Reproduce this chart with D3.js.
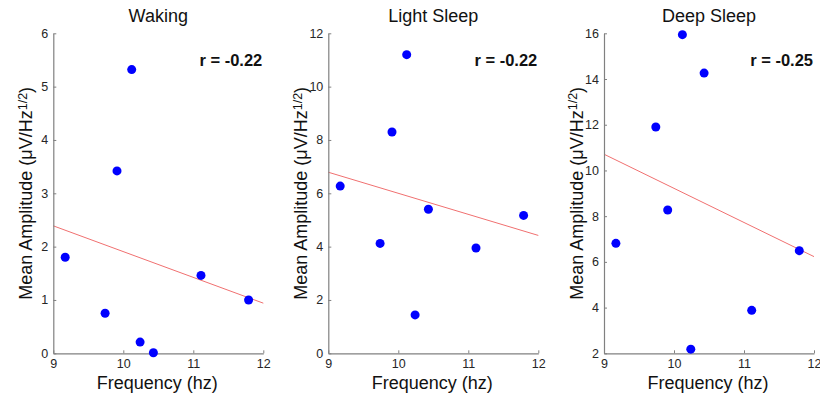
<!DOCTYPE html>
<html>
<head>
<meta charset="utf-8">
<script src="https://cdn.jsdelivr.net/npm/d3@7"></script>
<style>
  html, body { margin: 0; padding: 0; background: #fff; }
  svg { display: block; }
  text { font-family: "Liberation Sans", Arial, sans-serif; }
</style>
</head>
<body>
<svg id="chart" width="820" height="399"></svg>
<script>
// Frequency (hz) of each subject's peak, shared by all three states
const frequency = [9.17, 9.74, 9.91, 10.12, 10.24, 10.43, 11.11, 11.79];

// Mean amplitude per state (µV/Hz^1/2)
const wakingAmp = [1.80, 0.75, 3.42, 5.32, 0.21, 0.01, 1.46, 1.00];
const lightAmp  = [6.27, 4.12, 8.30, 11.20, 1.44, 5.40, 3.95, 5.17];
const deepAmp   = [6.81, 11.90, 8.27, 15.94, 2.18, 14.26, 3.88, 6.49];

// Fitted line values at x = 9 and x = 12
const wakingFit = [2.39, 0.94];
const lightFit  = [6.79, 4.42];
const deepFit   = [10.71, 6.23];

const panelTitles = ["Waking", "Light Sleep", "Deep Sleep"];
const rLabels = ["r = -0.22", "r = -0.22", "r = -0.25"];
const yDomains = [[0, 6], [0, 12], [2, 16]];
const yTickValues = [[0, 1, 2, 3, 4, 5, 6], [0, 2, 4, 6, 8, 10, 12], [2, 4, 6, 8, 10, 12, 14, 16]];
const xTickValues = [9, 10, 11, 12];
const fitX = [9, 12];

const amps = [wakingAmp, lightAmp, deepAmp];
const fits = [wakingFit, lightFit, deepFit];

const svg = d3.select("#chart");
const panelLeft = [53.3, 328.3, 604];
const plotW = 210, plotTop = 33.3, plotBottom = 353.3;
const axisColor = "#808080";
const textColor = "#262626";

panelTitles.forEach((title, i) => {
  const x = d3.scaleLinear().domain([9, 12]).range([panelLeft[i], panelLeft[i] + plotW]);
  const y = d3.scaleLinear().domain(yDomains[i]).range([plotBottom, plotTop]);
  const g = svg.append("g");

  // fitted line
  g.append("line")
    .attr("x1", x(fitX[0])).attr("y1", y(fits[i][0]))
    .attr("x2", x(fitX[1])).attr("y2", y(fits[i][1]))
    .attr("stroke", "#f07070").attr("stroke-width", 1);

  // axes (ticks point inward)
  const xa = g.append("g").attr("transform", `translate(0,${plotBottom})`)
    .call(d3.axisBottom(x).tickValues(xTickValues).tickFormat(d3.format("d"))
      .tickSizeInner(-3).tickSizeOuter(0).tickPadding(6));
  const ya = g.append("g").attr("transform", `translate(${panelLeft[i]},0)`)
    .call(d3.axisLeft(y).tickValues(yTickValues[i]).tickFormat(d3.format("d"))
      .tickSizeInner(-3).tickSizeOuter(0).tickPadding(5));
  [xa, ya].forEach(a => {
    a.select(".domain").attr("stroke", axisColor).attr("stroke-width", 1.2);
    a.selectAll(".tick line").attr("stroke", axisColor);
    a.selectAll(".tick text").attr("fill", textColor).style("font-size", "12.5px")
      .style("font-family", "'Liberation Sans', Arial, sans-serif");
  });

  // points
  g.selectAll("circle").data(frequency).join("circle")
    .attr("cx", d => x(d))
    .attr("cy", (d, j) => y(amps[i][j]))
    .attr("r", 4.5)
    .attr("fill", "#0000ff");

  // title
  g.append("text")
    .attr("x", panelLeft[i] + plotW / 2).attr("y", 22)
    .attr("text-anchor", "middle").attr("fill", "#111")
    .style("font-size", "18px").text(title);

  // correlation label
  g.append("text")
    .attr("x", panelLeft[i] + plotW - 1).attr("y", 66)
    .attr("text-anchor", "end").attr("fill", "#111")
    .style("font-size", "16.5px").style("font-weight", "bold").text(rLabels[i]);

  // x label
  g.append("text")
    .attr("x", panelLeft[i] + plotW / 2 - 1).attr("y", 389)
    .attr("text-anchor", "middle").attr("fill", "#111")
    .style("font-size", "18px").text("Frequency (hz)");

  // y label, centred on the axis
  const yl = g.append("text")
    .attr("transform", `translate(${panelLeft[i] - 21},${(plotTop + plotBottom) / 2}) rotate(-90)`)
    .attr("text-anchor", "middle").attr("fill", "#111")
    .style("font-size", "18px");
  yl.append("tspan").text("Mean Amplitude (\u03BCV/Hz");
  yl.append("tspan").attr("dy", "-0.45em").style("font-size", "12.5px").text("1/2");
  yl.append("tspan").attr("dy", "0.3em").text(")");
});
</script>
</body>
</html>
